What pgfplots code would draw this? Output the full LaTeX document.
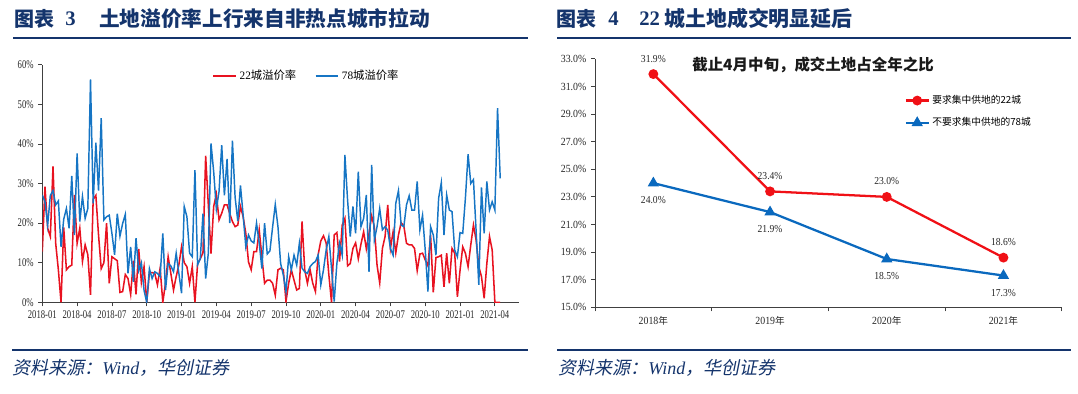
\documentclass[border=0pt]{standalone}
\usepackage{fontspec}
\setmainfont{Liberation Serif}
\newfontfamily\cjk{Noto Sans CJK SC}
\newfontfamily\cjkit{Noto Sans CJK SC}[FakeSlant=0.2]
\newfontfamily\tickL{Liberation Serif}[FakeStretch=0.74]
\newfontfamily\tickR{Liberation Serif}[FakeStretch=0.9]
\usepackage{pgfplots}
\pgfplotsset{compat=1.18}
\usepackage{pgfplotstable}
\newcommand{\fs}[1]{\fontsize{#1}{#1}\selectfont}
\newcommand{\yr}[1]{#1{\cjk\fs{7.2}年}}
\definecolor{tblue}{RGB}{20,52,108}
\definecolor{lred}{RGB}{232,18,32}
\definecolor{lblue}{RGB}{22,117,196}
\definecolor{rred}{RGB}{240,16,22}
\definecolor{rblue}{RGB}{10,105,190}

\pgfplotstableread{
w r b
0 12.8 27.1
1 29.2 25.4
2 18.7 19.5
3 16.6 27
4 34.3 28.2
5 14.9 24.6
6 8.2 25.6
7 0 14
8 18.9 21
9 8.2 23.7
10 9 18.7
11 9.4 31.9
12 27.1 17
13 14.9 37.6
14 18.7 20.4
15 10.3 26.7
16 14.5 21.2
17 12 23.7
18 1.9 56.3
19 26 25
20 27 40.3
21 17 28.2
22 8.5 46.5
23 10 20.8
24 20 21.6
25 4.8 22
26 11.5 17.4
27 11 12
28 10.5 22.4
29 2.5 16.7
30 2.7 19.9
31 7 22.2
32 6 7.3
33 2 14
34 10.5 5.2
35 2 16.2
36 13.5 8
37 5 10
38 9 3
39 0 0
40 7.5 8.5
41 7.5 6
42 7.3 7.7
43 4.4 7.3
44 8.6 6.5
45 0 17.4
46 4.8 3.1
47 11.5 9.8
48 7.3 9.2
49 3.1 7.7
50 6.5 12.4
51 9.5 7.3
52 14 2.3
53 10 24.2
54 9 21.6
55 4.8 12.4
56 9 11.5
57 0 33.4
58 9.8 9.5
59 11 11
60 12.5 22.4
61 37 6
62 24.6 12.4
63 12.3 40.1
64 24.2 33
65 27.3 23.5
66 20.8 28
67 22.5 39.7
68 24.6 27
69 24.6 36.2
70 22.4 20
71 20.4 40.8
72 19.1 26.5
73 19.5 20.5
74 24.2 29.5
75 21.6 22
76 17.4 14
77 10.2 17
78 8.2 15.5
79 12.8 15
80 12.8 20
81 18.3 15
82 11.5 8.5
83 4.8 20
84 5.6 12.2
85 5.6 13
86 4.8 19
87 1.8 24.7
88 8.2 19.1
89 8.6 9.8
90 8.2 6.9
91 0.2 2.7
92 4.8 11.5
93 8.2 8.2
94 5.6 11.9
95 3.1 9.4
96 3.5 14.9
97 20.4 8.6
98 8.2 7.7
99 4.8 7.3
100 8.2 9
101 4.8 9.8
102 2.7 10.3
103 12 11.9
104 15.5 4.4
105 16.8 8.2
106 15 13.2
107 7 16.6
108 0 8.6
109 17 0.2
110 17.6 9.8
111 10.3 14.9
112 19.5 11.9
113 21.2 37.2
114 9.2 25.8
115 9.8 16.6
116 13.6 24.2
117 15 17.4
118 11 33
119 14.7 19.1
120 17.8 21.2
121 13.5 27.1
122 17.4 7.7
123 21.8 34.7
124 19 15.7
125 9.4 19.1
126 4.9 23.7
127 13.6 18.3
128 16.6 19.1
129 24.6 18.2
130 13.6 13.6
131 17.8 11.9
132 12.5 25
133 17 28.2
134 20.1 19.5
135 19.3 19.1
136 14.9 24.6
137 14.5 26.9
138 14.5 23.3
139 13.6 23.3
140 8 30.5
141 12.2 18.3
142 12.4 22
143 10.7 13.2
144 9.2 2.7
145 17 19.1
146 2.5 17
147 11.3 11.9
148 11.5 26.3
149 11.9 30.2
150 3.9 17
151 12.4 27.1
152 4.8 23.3
153 13.6 22.9
154 12.4 13.2
155 1.4 11.5
156 8.1 17.6
157 14 17.4
158 12.4 26.3
159 9 37.4
160 14.5 30
161 19.5 31
162 15.7 18
163 9 4.4
164 6.5 29
165 1 17.4
166 9.8 30.5
167 16.6 23.3
168 13.2 25.4
169 0 23.3
170 0 49
171 0 31.3
}\leftdata

\pgfplotstableread{
x r b
0 31.9 24.0
1 23.4 21.9
2 23.0 18.5
3 18.6 17.3
}\rightdata

\begin{document}
\begin{tikzpicture}[x=0.75pt,y=0.75pt]
\path[use as bounding box] (0,0) rectangle (1078,393);

% ---------- titles ----------
\node[anchor=west, inner sep=0pt, text=tblue, font=\cjk\bfseries\fs{15}] at (14,374) {图表};
\node[anchor=west, inner sep=0pt, text=tblue, font=\rmfamily\bfseries\fs{15.5}] at (65,374) {3};
\node[anchor=west, inner sep=0pt, text=tblue, font=\cjk\bfseries\fs{15.5}] at (99,374) {土地溢价率上行来自非热点城市拉动};
\draw[tblue, line width=2pt] (13,355) -- (528,355);

\node[anchor=west, inner sep=0pt, text=tblue, font=\cjk\bfseries\fs{15}] at (556,374) {图表};
\node[anchor=west, inner sep=0pt, text=tblue, font=\rmfamily\bfseries\fs{15.5}] at (608,374) {4};
\node[anchor=west, inner sep=0pt, text=tblue, font=\rmfamily\bfseries\fs{15.5}] at (639,374) {22};
\node[anchor=west, inner sep=0pt, text=tblue, font=\cjk\bfseries\fs{15.7}] at (664,374) {城土地成交明显延后};
\draw[tblue, line width=2pt] (557,355) -- (1071,355);

% ---------- sources ----------
\draw[tblue, line width=2pt] (12,43) -- (528,43);
\draw[tblue, line width=2pt] (557,43) -- (1071,43);
\node[anchor=west, inner sep=0pt, text=tblue, font=\cjkit\fs{13.5}] at (12,25) {资料来源：{\rmfamily\itshape Wind}，华创证券};
\node[anchor=west, inner sep=0pt, text=tblue, font=\cjkit\fs{13.5}] at (558,25) {资料来源：{\rmfamily\itshape Wind}，华创证券};

% ---------- left chart ----------
\begin{axis}[
  at={(31.725pt,68.025pt)}, anchor=south west,
  scale only axis, width=357.5pt, height=178.2pt,
  xmin=0, xmax=178, ymin=0, ymax=60,
  axis x line*=bottom, axis y line*=left,
  axis line style={black!75, line width=0.6pt, -},
  tick style={black!75, line width=0.6pt},
  major tick length=3pt, tick align=outside,
  xtick={0,13,26,39,52,65,78,91,104,117,130,143,156,169},
  xticklabels={2018-01,2018-04,2018-07,2018-10,2019-01,2019-04,2019-07,2019-10,2020-01,2020-04,2020-07,2020-10,2021-01,2021-04},
  ytick={0,10,20,30,40,50,60},
  yticklabel={\pgfmathprintnumber{\tick}\%},
  /pgf/number format/assume math mode=true,
  ticklabel style={font=\tickL\fs{8.8}, text=black!85},
  legend style={at={(0.354,0.995)}, anchor=north west, draw=none, fill=none,
    legend columns=2, font=\fs{8.5}, inner sep=1pt,
    /tikz/every even column/.append style={column sep=12pt}},
  legend cell align=left,
]
\addplot[lred, line width=1.15pt] table[x=w, y=r] {\leftdata};
\addlegendentry{22{\cjk 城溢价率}}
\addplot[lblue, line width=1.1pt] table[x=w, y=b] {\leftdata};
\addlegendentry{78{\cjk 城溢价率}}
\end{axis}

% ---------- right chart ----------
\begin{axis}[
  at={(446.25pt,64.275pt)}, anchor=south west,
  scale only axis, width=350.1pt, height=186.3pt,
  xmin=-0.5, xmax=3.5, ymin=15, ymax=33,
  axis x line*=bottom, axis y line*=left,
  axis line style={black!75, line width=0.6pt, -},
  tick style={black!75, line width=0.6pt},
  major tick length=3pt, tick align=outside,
  xtick={-0.5,0.5,1.5,2.5,3.5},
  x tick label as interval,
  xticklabels={\yr{2018},\yr{2019},\yr{2020},\yr{2021}},
  ytick={15,17,19,21,23,25,27,29,31,33},
  yticklabel={\pgfmathprintnumber[fixed,fixed zerofill,precision=1]{\tick}\%},
  /pgf/number format/assume math mode=true,
  ticklabel style={font=\tickR\fs{8.2}, text=black!85},
  legend style={at={(0.66,0.87)}, anchor=north west, draw=none, fill=none,
    font=\cjk\fs{7.3}, inner sep=1pt, row sep=5pt},
  legend cell align=left,
  clip=false,
]
\addplot[rred, line width=1.7pt, mark=*, mark size=2.8pt,
  nodes near coords={\pgfmathprintnumber[fixed,fixed zerofill,precision=1]{\pgfplotspointmeta}\%},
  every node near coord/.append style={font=\tickR\fs{8}, text=black!85, inner sep=0pt, yshift=8pt}]
  table[x=x, y=r] {\rightdata};
\addlegendentry{要求集中供地的22城}
\addplot[rblue, line width=1.7pt, mark=triangle*, mark size=3.2pt,
  nodes near coords={\pgfmathprintnumber[fixed,fixed zerofill,precision=1]{\pgfplotspointmeta}\%},
  every node near coord/.append style={font=\tickR\fs{8}, text=black!85, inner sep=0pt, yshift=-16.5pt}]
  table[x=x, y=b] {\rightdata};
\addlegendentry{不要求集中供地的78城}
\end{axis}

\node[inner sep=0pt, font=\cjk\bfseries\fs{11.6}, text=black!90] at (813,328) {截止4月中旬，成交土地占全年之比};

\end{tikzpicture}
\end{document}
